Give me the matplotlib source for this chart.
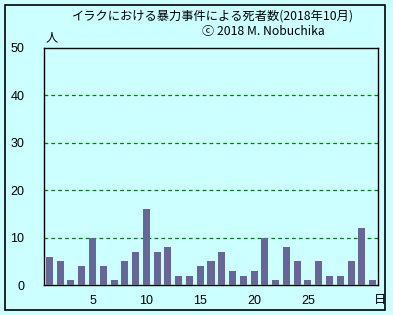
import matplotlib
matplotlib.use("Agg")
import matplotlib.pyplot as plt
from matplotlib.patches import Rectangle

plt.rcParams['font.family'] = ['Noto Sans CJK JP', 'DejaVu Sans']

days = list(range(1, 32))
deaths = [6, 5, 1, 4, 10, 4, 1, 5, 7, 16, 7, 8, 2, 2, 4, 5, 7, 3, 2, 3,
          10, 1, 8, 5, 1, 5, 2, 2, 5, 12, 1]
xticks = [5, 10, 15, 20, 25]
yticks = [0, 10, 20, 30, 40, 50]
title = "イラクにおける暴力事件による死者数(2018年10月)"
credit = "ⓒ 2018 M. Nobuchika"

W, H = 393, 315
bg = "#CCFFFF"
fig = plt.figure(figsize=(W / 100, H / 100), dpi=100, facecolor=bg)
ax = fig.add_axes([44 / W, 1 - 285 / H, (378 - 44) / W, (285 - 48) / H])
ax.set_facecolor(bg)

ax.bar(days, deaths, width=0.65, color="#666699", zorder=3)
ax.set_xlim(0.5, 31.5)
ax.set_ylim(0, 50)
ax.set_yticks(yticks)
ax.set_xticks(xticks)
ax.tick_params(length=0, labelsize=9, colors="black")
ax.tick_params(axis='y', pad=14)
ax.tick_params(axis='x', pad=7)
for lab in ax.get_xticklabels() + ax.get_yticklabels():
    lab.set_family(['Liberation Sans', 'DejaVu Sans'])
for v in yticks[1:-1]:
    ax.axhline(v, color="#008000", linestyle=(0, (3, 2.5)), linewidth=0.9, zorder=1)
for s in ax.spines.values():
    s.set_color("black")
    s.set_linewidth(1.0)

fig.text(213 / W, 1 - 16 / H, title, ha="center", va="center", fontsize=8.8)
fig.text(263 / W, 1 - 32 / H, credit, ha="center", va="center", fontsize=8.8,
         family=['Noto Sans CJK JP', 'DejaVu Sans'])
fig.text(52 / W, 1 - 38 / H, "人", ha="center", va="center", fontsize=8.8)
fig.text(380 / W, 1 - 300 / H, "日", ha="center", va="center", fontsize=8.8)

fig.patches.append(Rectangle((5 / W, 1 - 310 / H), (385 - 5) / W, (310 - 5) / H,
                             transform=fig.transFigure, fill=False,
                             edgecolor="black", linewidth=1.2))

fig.savefig("out.png", dpi=100, facecolor=bg)
